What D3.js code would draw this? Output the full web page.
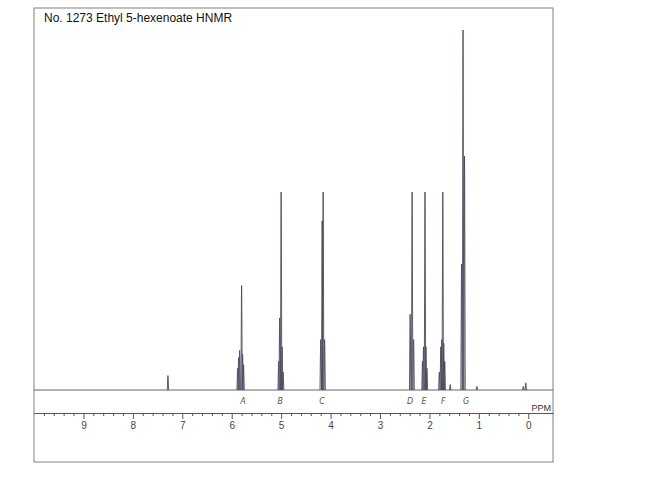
<!DOCTYPE html>
<html>
<head>
<meta charset="utf-8">
<script src="https://cdn.jsdelivr.net/npm/d3@7"></script>
<style>
  html, body { margin: 0; padding: 0; background: #ffffff; }
  svg { display: block; }
</style>
</head>
<body>
<svg id="chart" width="650" height="479"></svg>
<script>
// ---- data ----
const title = "No. 1273 Ethyl 5-hexenoate HNMR";
const xDomain = [10, -0.5];                 // ppm, reversed
const majorTicks = [9, 8, 7, 6, 5, 4, 3, 2, 1, 0];
const minorTicks = d3.range(0, 50).map(i => +(i * 0.2).toFixed(1)).filter(v => v <= 10 && !Number.isInteger(v));
const axisUnit = "PPM";

// individual spectral lines: chemical shift (ppm) and relative intensity
const linePpm = [
  7.29,
  5.88, 5.86, 5.84, 5.80, 5.78, 5.76,
  5.05, 5.03, 5.00, 4.98, 4.96,
  4.20, 4.17, 4.15, 4.12,
  2.39, 2.35, 2.32,
  2.14, 2.12, 2.09, 2.07, 2.05,
  1.80, 1.77, 1.75, 1.73, 1.71, 1.69,
  1.58,
  1.35, 1.32, 1.29,
  1.04,
  0.10, 0.05
];
const lineIntensity = [
  4,
  6, 9, 11, 29, 10, 7,
  8, 20, 55, 12, 5,
  14, 47, 55, 14,
  21, 55, 14,
  8, 12, 55, 12, 6,
  5, 12, 14, 55, 13, 8,
  1.5,
  35, 100, 65,
  1,
  1, 2
];

// peak group labels (handwritten letters under the baseline)
const peakLabels = ["A", "B", "C", "D", "E", "F", "G"];
const peakLabelPpm = [5.77, 5.02, 4.17, 2.39, 2.11, 1.72, 1.26];

// ---- drawing ----
const svg = d3.select("#chart");
const W = 650, H = 479;
svg.append("rect").attr("width", W).attr("height", H).attr("fill", "#ffffff");

const x = d3.scaleLinear().domain(xDomain).range([34, 553]);
const y = d3.scaleLinear().domain([0, 100]).range([390, 30]);
const inkColor = "#4a4a5e";

// outer frame
svg.append("rect")
  .attr("x", 34).attr("y", 8)
  .attr("width", 553 - 34).attr("height", 462 - 8)
  .attr("fill", "none").attr("stroke", "#808080").attr("stroke-width", 1);

// title
svg.append("text")
  .attr("x", 44).attr("y", 22)
  .attr("font-family", "Liberation Sans, Arial, sans-serif")
  .attr("font-size", 12)
  .attr("fill", "#111")
  .text(title);

// baseline
svg.append("line")
  .attr("x1", x(xDomain[0])).attr("x2", x(xDomain[1]))
  .attr("y1", y(0)).attr("y2", y(0))
  .attr("stroke", "#666").attr("stroke-width", 1);

// spectral lines
const spike = d3.line().x(d => x(d[0])).y(d => y(d[1]));
const lines = linePpm.map((p, i) => ({ p, h: lineIntensity[i] }));
svg.append("g").selectAll("path")
  .data(lines)
  .join("path")
  .attr("d", d => spike([[d.p + 0.014, 0], [d.p + 0.003, d.h * 0.9], [d.p, d.h], [d.p - 0.003, d.h * 0.9], [d.p - 0.014, 0]]))
  .attr("fill", "none")
  .attr("stroke", inkColor)
  .attr("stroke-width", 0.9)
  .attr("stroke-linejoin", "miter");

// peak labels
svg.append("g").selectAll("text")
  .data(peakLabels)
  .join("text")
  .attr("x", (d, i) => x(peakLabelPpm[i]))
  .attr("y", 404)
  .attr("text-anchor", "middle")
  .attr("font-family", "DejaVu Sans, sans-serif")
  .attr("font-style", "italic")
  .attr("font-size", 8)
  .attr("fill", "#555")
  .text(d => d);

// axis
const axisY = 413;
const gMinor = svg.append("g").attr("transform", `translate(0,${axisY})`)
  .call(d3.axisBottom(x).tickValues(minorTicks).tickSize(3).tickSizeOuter(0).tickFormat(""));
const gMajor = svg.append("g").attr("transform", `translate(0,${axisY})`)
  .call(d3.axisBottom(x).tickValues(majorTicks).tickSize(6).tickSizeOuter(0).tickPadding(3).tickFormat(d3.format("d")));
[gMinor, gMajor].forEach(g => {
  g.select(".domain").attr("stroke", "#555");
  g.selectAll(".tick line").attr("stroke", "#555");
  g.selectAll(".tick text")
    .attr("font-family", "Liberation Sans, Arial, sans-serif")
    .attr("font-size", 10)
    .attr("fill", "#444");
});

// unit label
svg.append("text")
  .attr("x", 551).attr("y", 411)
  .attr("text-anchor", "end")
  .attr("font-family", "Liberation Sans, Arial, sans-serif")
  .attr("font-size", 9)
  .attr("fill", "#333")
  .text(axisUnit);
</script>
</body>
</html>
